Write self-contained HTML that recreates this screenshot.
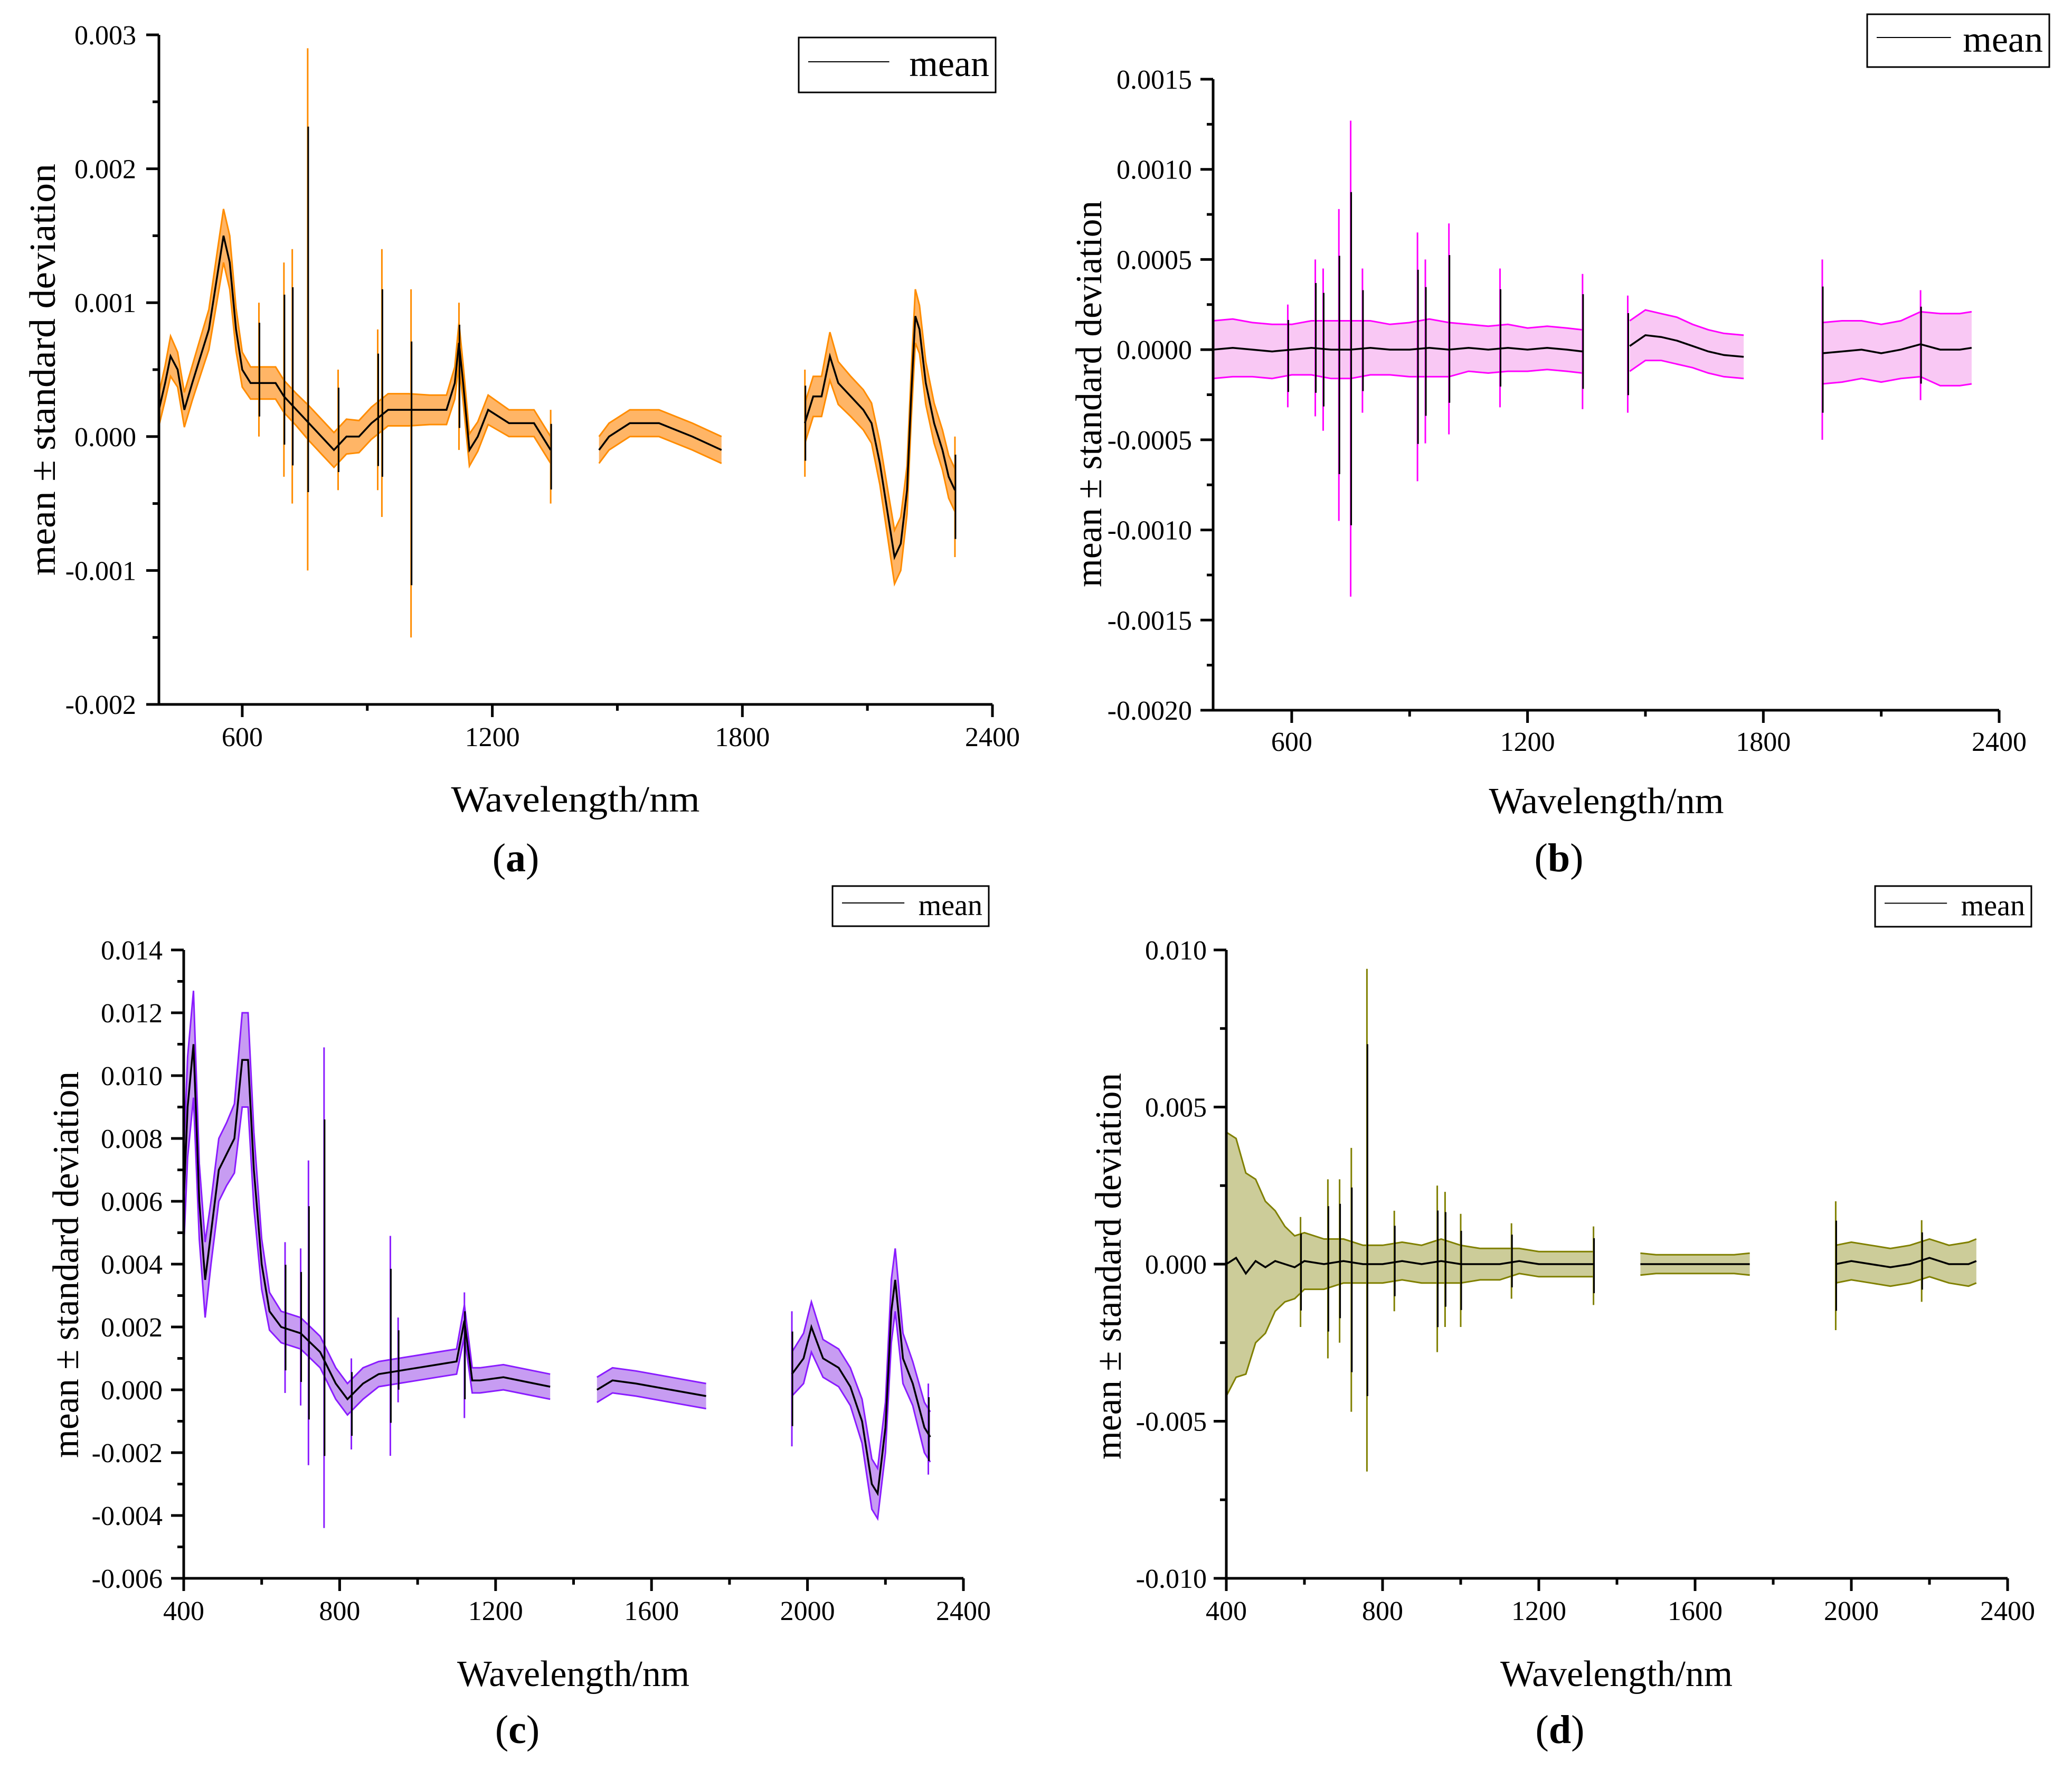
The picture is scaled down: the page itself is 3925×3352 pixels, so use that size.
<!DOCTYPE html>
<html><head><meta charset="utf-8">
<style>
html,body{margin:0;padding:0;background:#fff;}
svg{display:block;font-family:"Liberation Serif",serif;}
</style></head>
<body>
<svg id="fig" xmlns="http://www.w3.org/2000/svg" width="3925" height="3352" viewBox="0 0 3925 3352">
<rect x="0" y="0" width="3925" height="3352" fill="#fff"/>
</svg>
<script>
// ---- Panel (a) data ----
const wlA   = [400,415,428,445,461,480,500,520,540,555,570,585,600,620,650,680,700,730,760,790,820,850,880,910,950,1000,1050,1090,1110,1120,1130,1145,1165,1190,1240,1300,1340,null,1456,1480,1530,1600,1680,1750,null,1950,1970,1990,2010,2030,2060,2090,2110,2130,2150,2165,2180,2195,2205,2215,2225,2240,2260,2280,2295,2310];
const meanA = [0.0002,0.0004,0.0006,0.0005,0.0002,0.0004,0.0006,0.0008,0.0012,0.0015,0.0013,0.0008,0.0005,0.0004,0.0004,0.0004,0.0003,0.0002,0.0001,0.0000,-0.0001,0.0000,0.0000,0.0001,0.0002,0.0002,0.0002,0.0002,0.0004,0.0007,0.0004,-0.0001,0.0000,0.0002,0.0001,0.0001,-0.0001,null,-0.0001,0.0000,0.0001,0.0001,0.0000,-0.0001,null,0.0001,0.0003,0.0003,0.0006,0.0004,0.0003,0.0002,0.0001,-0.0002,-0.0006,-0.0009,-0.0008,-0.0004,0.0003,0.0009,0.0008,0.0004,0.0001,-0.0001,-0.0003,-0.0004];
const stdA  = [0.00012,0.00013,0.00015,0.00013,0.00013,0.00013,0.00014,0.00015,0.00018,0.0002,0.0002,0.00016,0.00013,0.00012,0.00012,0.00012,0.00012,0.00012,0.00013,0.00013,0.00013,0.00013,0.00012,0.00012,0.00012,0.00012,0.00011,0.00011,0.00012,0.00015,0.00014,0.00012,0.00011,0.00011,0.0001,0.0001,0.0001,null,0.0001,0.0001,0.0001,0.0001,0.0001,0.0001,null,0.00015,0.00015,0.00015,0.00018,0.00016,0.00015,0.00015,0.00015,0.00016,0.00018,0.0002,0.0002,0.00018,0.00018,0.0002,0.00018,0.00016,0.00015,0.00015,0.00016,0.00016];
const spikeWlA = [640,700,720,757,830,925,935,1005,1120,1340,1950,2310];
const spikeHiA = [0.0010,0.0013,0.0014,0.0029,0.0005,0.0008,0.0014,0.0011,0.0010,0.0002,0.0005,0.0000];
const spikeLoA = [0.0000,-0.0003,-0.0005,-0.0010,-0.0004,-0.0004,-0.0006,-0.0015,-0.0001,-0.0005,-0.0003,-0.0009];

// ---- Panel (b) data ----
const wlB   = [400,450,500,550,600,650,700,750,800,850,900,950,1000,1050,1100,1150,1200,1250,1300,1340,null,1460,1500,1540,1580,1620,1660,1700,1750,null,1950,2000,2050,2100,2150,2200,2250,2300,2330];
const meanB = [0.0000,0.00001,0.0000,-0.00001,0.0000,0.00001,0.0000,0.0000,0.00001,0.0000,0.0000,0.00001,0.0000,0.00001,0.0000,0.00001,0.0000,0.00001,0.0000,-0.00001,null,0.00002,0.00008,0.00007,0.00005,0.00002,-0.00001,-0.00003,-0.00004,null,-0.00002,-0.00001,0.0000,-0.00002,0.0000,0.00003,0.0000,0.0000,0.00001];
const stdB  = [0.00016,0.00016,0.00015,0.00015,0.00014,0.00015,0.00016,0.00016,0.00015,0.00014,0.00015,0.00016,0.00015,0.00013,0.00013,0.00013,0.00012,0.00012,0.00012,0.00012,null,0.00014,0.00014,0.00013,0.00013,0.00012,0.00012,0.00012,0.00012,null,0.00017,0.00017,0.00016,0.00016,0.00016,0.00018,0.0002,0.0002,0.0002];
const spikeWlB = [590,660,680,720,750,780,920,940,1000,1130,1340,1455,1950,2200];
const spikeHiB = [0.00025,0.0005,0.00045,0.00078,0.00127,0.00045,0.00065,0.0005,0.0007,0.00045,0.00042,0.0003,0.0005,0.00033];
const spikeLoB = [-0.00032,-0.00037,-0.00045,-0.00095,-0.00137,-0.00035,-0.00073,-0.00052,-0.00047,-0.00032,-0.00033,-0.00035,-0.0005,-0.00028];

// ---- Panel (c) data ----
const wlC   = [400,410,425,440,455,470,490,510,530,550,565,580,600,620,650,700,750,790,820,860,900,950,1000,1050,1100,1120,1140,1160,1220,1300,1340,null,1460,1500,1560,1650,1740,null,1960,1990,2010,2040,2080,2110,2140,2165,2180,2200,2215,2225,2245,2270,2300,2315];
const meanC = [0.006,0.009,0.011,0.006,0.0035,0.005,0.007,0.0075,0.008,0.0105,0.0105,0.007,0.004,0.0025,0.002,0.0018,0.0012,0.0002,-0.0003,0.0002,0.0005,0.0006,0.0007,0.0008,0.0009,0.0022,0.0003,0.0003,0.0004,0.0002,0.0001,null,0.0000,0.0003,0.0002,0.0000,-0.0002,null,0.0005,0.001,0.002,0.001,0.0007,0.0001,-0.001,-0.003,-0.0033,-0.0012,0.0025,0.0035,0.001,0.0002,-0.0012,-0.0015];
const stdC  = [0.0015,0.0016,0.0017,0.0012,0.0012,0.001,0.001,0.001,0.0011,0.0015,0.0015,0.0012,0.0008,0.0006,0.0005,0.0005,0.0005,0.0005,0.0005,0.0005,0.0004,0.0004,0.0004,0.0004,0.0004,0.0005,0.0004,0.0004,0.0004,0.0004,0.0004,null,0.0004,0.0004,0.0004,0.0004,0.0004,null,0.0007,0.0008,0.0008,0.0006,0.0006,0.0006,0.0007,0.0008,0.0008,0.0008,0.001,0.001,0.0008,0.0007,0.0008,0.0008];
const spikeWlC = [660,700,720,760,830,930,950,1120,1960,2310];
const spikeHiC = [0.0047,0.0045,0.0073,0.0109,0.001,0.0049,0.0023,0.0031,0.0025,0.0002];
const spikeLoC = [-0.0001,-0.0005,-0.0024,-0.0044,-0.0019,-0.0021,-0.0004,-0.0009,-0.0018,-0.0027];

// ---- Panel (d) data ----
const wlD   = [400,425,450,475,500,525,550,575,600,650,700,750,800,850,900,950,1000,1050,1100,1150,1200,1250,1300,1340,null,1460,1500,1550,1600,1650,1700,1740,null,1960,2000,2050,2100,2150,2200,2250,2300,2320];
const meanD = [0.0,0.0002,-0.0003,0.0001,-0.0001,0.0001,0.0,-0.0001,0.0001,0.0,0.0001,0.0,0.0,0.0001,0.0,0.0001,0.0,0.0,0.0,0.0001,0.0,0.0,0.0,0.0,null,0.0,0.0,0.0,0.0,0.0,0.0,0.0,null,0.0,0.0001,0.0,-0.0001,0.0,0.0002,0.0,0.0,0.0001];
const stdD  = [0.0042,0.0038,0.0032,0.0026,0.0021,0.0016,0.0012,0.0010,0.0009,0.0008,0.0007,0.0006,0.0006,0.0006,0.0006,0.0007,0.0006,0.0005,0.0005,0.0004,0.0004,0.0004,0.0004,0.0004,null,0.00035,0.0003,0.0003,0.0003,0.0003,0.0003,0.00035,null,0.0006,0.0006,0.0006,0.0006,0.0006,0.0006,0.0006,0.0007,0.0007];
const spikeWlD = [590,660,690,720,760,830,940,960,1000,1130,1340,1960,2180];
const spikeHiD = [0.0015,0.0027,0.0027,0.0037,0.0094,0.0017,0.0025,0.0023,0.0016,0.0013,0.0012,0.0020,0.0014];
const spikeLoD = [-0.0020,-0.0030,-0.0025,-0.0047,-0.0066,-0.0015,-0.0028,-0.0020,-0.0020,-0.0011,-0.0013,-0.0021,-0.0012];

// ---- tick arrays ----
const xTicksAB = [600,1200,1800,2400];
const xMinorAB = [900,1500,2100];
const yTicksA = [-0.002,-0.001,0.000,0.001,0.002,0.003];
const yTickLabelsA = ["-0.002","-0.001","0.000","0.001","0.002","0.003"];
const yTicksB = [-0.002,-0.0015,-0.001,-0.0005,0,0.0005,0.001,0.0015];
const yTickLabelsB = ["-0.0020","-0.0015","-0.0010","-0.0005","0.0000","0.0005","0.0010","0.0015"];
const xTicksCD = [400,800,1200,1600,2000,2400];
const xMinorCD = [600,1000,1400,1800,2200];
const yTicksC = [-0.006,-0.004,-0.002,0,0.002,0.004,0.006,0.008,0.010,0.012,0.014];
const yTickLabelsC = ["-0.006","-0.004","-0.002","0.000","0.002","0.004","0.006","0.008","0.010","0.012","0.014"];
const yTicksD = [-0.010,-0.005,0,0.005,0.010];
const yTickLabelsD = ["-0.010","-0.005","0.000","0.005","0.010"];

const NS = "http://www.w3.org/2000/svg";
const svg = document.getElementById("fig");
function mk(tag, attrs, parent){
  const e = document.createElementNS(NS, tag);
  for (const k in attrs) e.setAttribute(k, attrs[k]);
  (parent||svg).appendChild(e);
  return e;
}

function drawPanel(p, wl, mean, std, sWl, sHi, sLo, yTicks, yLabels, yMinorStep, xTicks, xMinor){
  const g = mk("g", {});
  
  
  const sx = v => p.L + (v - p.xmin) / (p.xmax - p.xmin) * (p.R - p.L);
  const sy = v => p.B - (v - p.ymin) / (p.ymax - p.ymin) * (p.B - p.T);
  // segments
  const segs = []; let cur = [];
  for (let i = 0; i < wl.length; i++){
    if (wl[i] === null){ if (cur.length) segs.push(cur); cur = []; }
    else cur.push(i);
  }
  if (cur.length) segs.push(cur);
  segs.forEach((s, si) => {
    let up = s.map(i => sx(wl[i]).toFixed(1) + "," + sy(mean[i] + std[i]).toFixed(1));
    let lo = s.map(i => sx(wl[i]).toFixed(1) + "," + sy(mean[i] - std[i]).toFixed(1));
    const band = mk("polygon", {points: up.concat(lo.slice().reverse()).join(" "), fill: p.fill, stroke: "none"}, g);
    
    
    const u = mk("polyline", {points: up.join(" "), fill: "none", stroke: p.edge, "stroke-width": 3}, g);
    
    
    const l = mk("polyline", {points: lo.join(" "), fill: "none", stroke: p.edge, "stroke-width": 3}, g);
    
    
  });
  // spikes
  for (let i = 0; i < sWl.length; i++){
    const sp = mk("line", {x1: sx(sWl[i]), x2: sx(sWl[i]), y1: sy(sHi[i]), y2: sy(sLo[i]), stroke: p.edge, "stroke-width": 3}, g);
    
    
    const mid = (sHi[i] + sLo[i]) / 2, half = (sHi[i] - sLo[i]) * 0.35;
    const sm = mk("line", {x1: sx(sWl[i]) + 1, x2: sx(sWl[i]) + 1, y1: sy(mid + half), y2: sy(mid - half), stroke: "#000", "stroke-width": 3}, g);
    
    
  }
  segs.forEach(s => {
    const m = mk("polyline", {points: s.map(i => sx(wl[i]).toFixed(1) + "," + sy(mean[i]).toFixed(1)).join(" "), fill: "none", stroke: "#000", "stroke-width": 3.5}, g);
    
    
  });
  // axes
  const ax = mk("path", {d: `M${p.L},${p.T} L${p.L},${p.B} L${p.R},${p.B}`, fill: "none", stroke: "#000", "stroke-width": 5}, g);
  
  
  yTicks.forEach((v, i) => {
    const y = sy(v);
    const t = mk("line", {x1: p.L - 24, x2: p.L, y1: y, y2: y, stroke: "#000", "stroke-width": 5}, g);
    
    
    const tx = mk("text", {x: p.yLabRight, y: y + 18, "text-anchor": "end", "font-size": 52}, g);
    
    
    tx.textContent = yLabels[i];
    if (i < yTicks.length - 1){
      const ym = sy(v + yMinorStep);
      const mt = mk("line", {x1: p.L - 12, x2: p.L, y1: ym, y2: ym, stroke: "#000", "stroke-width": 5}, g);
      
      
    }
  });
  xTicks.forEach(v => {
    const x = sx(v);
    const t = mk("line", {x1: x, x2: x, y1: p.B, y2: p.B + 24, stroke: "#000", "stroke-width": 5}, g);
    
    
    const tx = mk("text", {x: x, y: p.xLabY, "text-anchor": "middle", "font-size": 52}, g);
    
    
    tx.textContent = String(v);
  });
  xMinor.forEach(v => {
    const x = sx(v);
    const t = mk("line", {x1: x, x2: x, y1: p.B, y2: p.B + 12, stroke: "#000", "stroke-width": 5}, g);
    
    
  });
  // axis titles
  const yt = mk("text", {x: 0, y: 0, transform: `translate(${p.ytX},${p.ytY}) rotate(-90)`, "text-anchor": "middle", "font-size": 70, textLength: p.ytLen, lengthAdjust: "spacingAndGlyphs", "dominant-baseline": "middle"}, g);
  
  
  yt.textContent = "mean ± standard deviation";
  const xt = mk("text", {x: p.xtX, y: p.xtY + 24, "text-anchor": "middle", "font-size": 70, textLength: p.xtLen, lengthAdjust: "spacingAndGlyphs"}, g);
  
  
  xt.textContent = "Wavelength/nm";
  const pl = mk("text", {x: p.plX, y: p.plY + 25, "text-anchor": "middle", "font-size": 76}, g);
  
  
  pl.innerHTML = `(<tspan font-weight="bold">${p.id}</tspan>)`;
  // legend
  const lg = mk("g", {}, g);
  
  
  mk("rect", {x: p.lg[0], y: p.lg[1], width: p.lg[2] - p.lg[0], height: p.lg[3] - p.lg[1], fill: "#fff", stroke: "#000", "stroke-width": 3}, lg);
  const cy = (p.lg[1] + p.lg[3]) / 2;
  const ls = mk("line", {x1: p.lg[0] + 18, x2: p.lg[0] + (p.lg[2]-p.lg[0]) * 0.46, y1: cy - 6, y2: cy - 6, stroke: "#000", "stroke-width": 2}, lg);
  
  
  const lt = mk("text", {x: p.lg[2] - 12, y: cy + p.lgFs * 0.3, "text-anchor": "end", "font-size": p.lgFs}, lg);
  
  
  lt.textContent = "mean";
}

drawPanel({id:"a", L:301, R:1880, T:66, B:1334, xmin:400, xmax:2400, ymin:-0.002, ymax:0.003, fill:"#ffb566", edge:"#ff8c00",
  yLabRight:258, xLabY:1413, ytX:88, ytY:700, ytLen:780, xtX:1090, xtY:1513, xtLen:471, plX:977, plY:1625, lg:[1513,71,1886,175], lgFs:70},
  wlA, meanA, stdA, spikeWlA, spikeHiA, spikeLoA, yTicksA, yTickLabelsA, 0.0005, xTicksAB, xMinorAB);
drawPanel({id:"b", L:2298, R:3787, T:150, B:1345, xmin:400, xmax:2400, ymin:-0.002, ymax:0.0015, fill:"#f9c8f4", edge:"#ff00ff",
  yLabRight:2258, xLabY:1422, ytX:2070, ytY:746, ytLen:732, xtX:3043, xtY:1516, xtLen:445, plX:2953, plY:1625, lg:[3537,27,3882,127], lgFs:70},
  wlB, meanB, stdB, spikeWlB, spikeHiB, spikeLoB, yTicksB, yTickLabelsB, 0.00025, xTicksAB, xMinorAB);
drawPanel({id:"c", L:348, R:1825, T:1799, B:2989, xmin:400, xmax:2400, ymin:-0.006, ymax:0.014, fill:"#c79cf2", edge:"#8a1cff",
  yLabRight:308, xLabY:3068, ytX:132, ytY:2395, ytLen:732, xtX:1086, xtY:3169, xtLen:440, plX:980, plY:3276, lg:[1577,1678,1873,1754], lgFs:56},
  wlC, meanC, stdC, spikeWlC, spikeHiC, spikeLoC, yTicksC, yTickLabelsC, 0.001, xTicksCD, xMinorCD);
drawPanel({id:"d", L:2323, R:3803, T:1799, B:2989, xmin:400, xmax:2400, ymin:-0.010, ymax:0.010, fill:"#cccc99", edge:"#808000",
  yLabRight:2286, xLabY:3068, ytX:2107, ytY:2398, ytLen:732, xtX:3062, xtY:3169, xtLen:440, plX:2955, plY:3276, lg:[3552,1678,3848,1755], lgFs:56},
  wlD, meanD, stdD, spikeWlD, spikeHiD, spikeLoD, yTicksD, yTickLabelsD, 0.0025, xTicksCD, xMinorCD);
</script>
</body></html>
